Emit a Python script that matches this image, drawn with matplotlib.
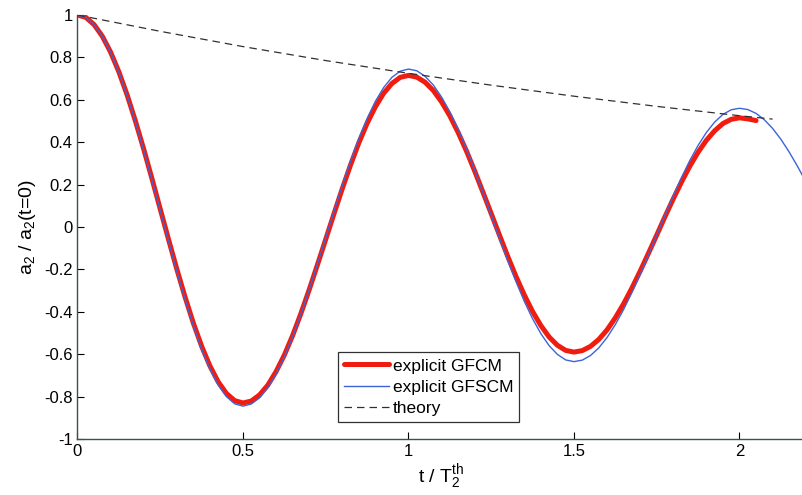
import matplotlib
matplotlib.use("Agg")
import matplotlib.pyplot as plt
import numpy as np
from matplotlib.ticker import FormatStrFormatter

plt.rcParams['font.family'] = ['Liberation Sans', 'DejaVu Sans']
plt.rcParams['mathtext.fontset'] = 'custom'
plt.rcParams['mathtext.rm'] = 'Liberation Sans'
plt.rcParams['mathtext.it'] = 'Liberation Sans'
plt.rcParams['axes.unicode_minus'] = False

dt = 0.025
a_gfscm = [1.000, 0.989, 0.955, 0.900, 0.824, 0.730, 0.620, 0.496, 0.363, 0.221,
           0.078, -0.066, -0.208, -0.341, -0.465, -0.575, -0.669, -0.745, -0.800, -0.834,
           -0.845, -0.835, -0.806, -0.758, -0.693, -0.612, -0.517, -0.411, -0.296, -0.174,
           -0.050, 0.074, 0.196, 0.311, 0.417, 0.512, 0.593, 0.658, 0.706, 0.735,
           0.745, 0.737, 0.711, 0.670, 0.613, 0.543, 0.461, 0.368, 0.268, 0.163,
           0.055, -0.053, -0.158, -0.258, -0.351, -0.433, -0.503, -0.560, -0.601, -0.627,
           -0.635, -0.628, -0.606, -0.570, -0.521, -0.460, -0.389, -0.309, -0.222, -0.131,
           -0.038, 0.056, 0.147, 0.234, 0.314, 0.385, 0.446, 0.495, 0.531, 0.553,
           0.560, 0.554, 0.536, 0.506, 0.465, 0.414, 0.354, 0.287, 0.215]

a_gfcm = [1.000, 0.989, 0.955, 0.900, 0.825, 0.732, 0.623, 0.500, 0.368, 0.228,
          0.085, -0.058, -0.198, -0.330, -0.453, -0.562, -0.655, -0.730, -0.785, -0.819,
          -0.830, -0.821, -0.792, -0.746, -0.682, -0.604, -0.512, -0.408, -0.296, -0.178,
          -0.058, 0.063, 0.181, 0.293, 0.397, 0.489, 0.567, 0.631, 0.677, 0.706,
          0.715, 0.707, 0.683, 0.644, 0.590, 0.524, 0.446, 0.359, 0.264, 0.164,
          0.063, -0.039, -0.139, -0.234, -0.321, -0.399, -0.465, -0.519, -0.558, -0.582,
          -0.590, -0.583, -0.563, -0.530, -0.485, -0.428, -0.362, -0.288, -0.208, -0.124,
          -0.038, 0.049, 0.133, 0.213, 0.287, 0.353, 0.409, 0.454, 0.488, 0.508,
          0.515, 0.510, 0.502]

t_theory = [0, 0.25, 0.5, 0.75, 1.0, 1.25, 1.5, 1.75, 2.0, 2.1]
a_theory = [1.000, 0.923, 0.851, 0.785, 0.725, 0.669, 0.617, 0.569, 0.525, 0.509]

xticks = [0, 0.5, 1, 1.5, 2]
yticks = [-1, -0.8, -0.6, -0.4, -0.2, 0, 0.2, 0.4, 0.6, 0.8, 1]

t_blue = np.arange(len(a_gfscm)) * dt
t_red = np.arange(len(a_gfcm)) * dt

fig = plt.figure(figsize=(8.02, 4.95), dpi=100)
ax = fig.add_axes([0.0966, 0.1131, 0.908, 0.8566])

ax.plot(t_red, a_gfcm, color='#f01c10', lw=3.6, solid_capstyle='round',
        solid_joinstyle='round', label='explicit GFCM')
ax.plot(t_blue, a_gfscm, color='#3c64d8', lw=1.0, solid_joinstyle='round',
        label='explicit GFSCM')
ax.plot(t_theory, a_theory, color='#303030', lw=0.9, ls=(0, (6, 4)), label='theory')

ax.set_xlim(0, 2.2)
ax.set_ylim(-1, 1)
ax.set_xticks(xticks)
ax.set_yticks(yticks)
ax.xaxis.set_major_formatter(FormatStrFormatter('%g'))
ax.yaxis.set_major_formatter(FormatStrFormatter('%g'))
ax.tick_params(direction='in', length=5, width=0.8, labelsize=12, colors='#000000')
for s in ['top', 'right']:
    ax.spines[s].set_visible(False)
for s in ['left', 'bottom']:
    ax.spines[s].set_color('#405050')
    ax.spines[s].set_linewidth(1.0)

ax.set_xlabel('t / T$_2^{\\mathrm{th}}$', fontsize=14, labelpad=2)
ax.set_ylabel('a$_2$ / a$_2$(t=0)', fontsize=14, labelpad=4)

leg = ax.legend(loc='lower left', bbox_to_anchor=(0.358, 0.04), fontsize=12.5,
                fancybox=False, framealpha=1, edgecolor='#303030',
                handlelength=2.6, handletextpad=0.2, borderpad=0.35, labelspacing=0.35,
                borderaxespad=0)
leg.get_frame().set_linewidth(0.9)

fig.savefig('out.png', dpi=100)
